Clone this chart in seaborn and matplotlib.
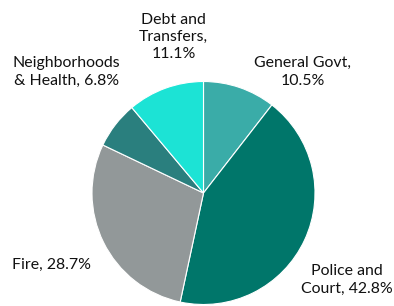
import matplotlib
matplotlib.use("Agg")
from matplotlib import pyplot as plt
import seaborn as sns

categories = ["General Govt", "Police and\nCourt", "Fire", "Neighborhoods\n& Health", "Debt and\nTransfers"]
shares = [10.5, 42.8, 28.7, 6.8, 11.1]
colors = ["#3AACA8", "#00766A", "#929899", "#2A7F7E", "#1CE3D5"]
# label anchors in pie-radius units (Excel "best fit" placement)
label_pos = [(0.89, 1.085), (1.29, -0.78), (-1.365, -0.646), (-1.23, 1.085), (-0.27, 1.40)]


def label_text(name, value):
    if name in ("General Govt",) or name.startswith("Debt"):
        return f"{name},\n{value}%"
    return f"{name}, {value}%"


sns.set_theme(style="white")
plt.rcParams["font.family"] = ["Lato", "DejaVu Sans"]

fig = plt.figure(figsize=(3.94, 3.06), dpi=100)
cx, cy, r = 203.5, 306 - 193, 111.5
ax = fig.add_axes([(cx - r) / 394, (cy - r) / 306, 2 * r / 394, 2 * r / 306])

ax.pie(shares, colors=colors, startangle=90, counterclock=False,
       wedgeprops=dict(edgecolor="white", linewidth=0.8))
ax.set_xlim(-1, 1)
ax.set_ylim(-1, 1)
ax.axis("off")

for name, value, (lx, ly) in zip(categories, shares, label_pos):
    ax.text(lx, ly, label_text(name, value), ha="center", va="center",
            fontsize=11.4, color="#111111", linespacing=1.3, clip_on=False)

plt.savefig("out.png", dpi=100)
plt.close()
